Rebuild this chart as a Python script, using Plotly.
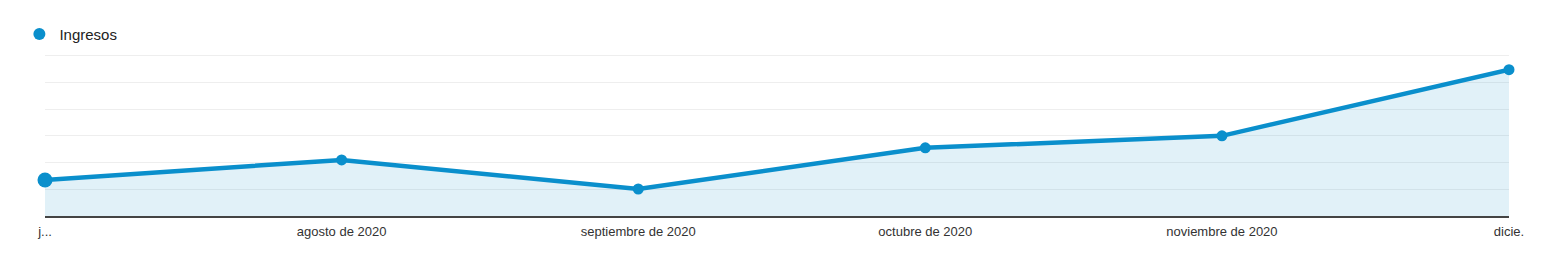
import plotly.graph_objects as go

months = ["2020-07-01", "2020-08-01", "2020-09-01", "2020-10-01", "2020-11-01", "2020-12-01"]
tick_labels = ["j...", "agosto de 2020", "septiembre de 2020", "octubre de 2020", "noviembre de 2020", "dicie."]
ingresos = [1350, 2100, 1010, 2550, 3000, 5475]
marker_sizes = [15, 11, 11, 11, 11, 11]
series_name = "Ingresos"

blue = "#0a8fcc"

fig = go.Figure()
fig.add_trace(go.Scatter(
    x=months, y=ingresos, mode="lines+markers",
    line=dict(color=blue, width=4.5),
    marker=dict(color=blue, size=marker_sizes, opacity=1, line=dict(width=0)),
    fill="tozeroy", fillcolor="rgba(5,141,199,0.12)",
    cliponaxis=False,
    showlegend=False, hoverinfo="skip"))
fig.add_trace(go.Scatter(
    x=[None], y=[None], mode="markers", name=series_name,
    marker=dict(color=blue, size=12, opacity=1, line=dict(width=0)), showlegend=True))

fig.update_layout(
    width=1544, height=261,
    margin=dict(l=45, r=35, t=53, b=45),
    paper_bgcolor="white", plot_bgcolor="white",
    font=dict(family="Liberation Sans, Arial, sans-serif", color="#444", size=12),
    legend=dict(x=-0.0175, xanchor="left", y=1.115, yanchor="middle",
                orientation="h", font=dict(size=15, color="#222"),
                bgcolor="rgba(0,0,0,0)"),
    xaxis=dict(type="date", tickmode="array", tickvals=months, ticktext=tick_labels,
               showgrid=False, zeroline=False, showline=True, linecolor="#444",
               linewidth=1.5, ticks="outside", ticklen=3, tickcolor="rgba(0,0,0,0)",
               range=[months[0], months[-1]], tickfont=dict(size=13, color="#333")),
    yaxis=dict(range=[0, 6100], dtick=1000, showticklabels=False, showgrid=True,
               gridcolor="#eeeeee", zeroline=False, fixedrange=True),
)
fig.write_html("out.html")
